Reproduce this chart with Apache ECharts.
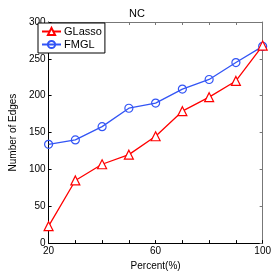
<!DOCTYPE html>
<html><head><meta charset="utf-8">
<script src="https://cdn.jsdelivr.net/npm/echarts@6/dist/echarts.min.js"></script>
<style>html,body{margin:0;padding:0;background:#fff}#c{width:274px;height:276px}</style>
</head><body><div id="c"></div>
<script>
const percents = [20, 30, 40, 50, 60, 70, 80, 90, 100];
const glasso = [23, 85, 107, 120, 145, 179, 198, 220, 268];
const fmgl = [134, 140, 158, 183, 190, 209, 222, 245, 267];
const xLabels = [20, 60, 100];
const title = 'NC';

const chart = echarts.init(document.getElementById('c'), null, {renderer: 'canvas'});
const font = 'Liberation Sans, Arial, sans-serif';
const pair = a => percents.map((p, i) => [p, a[i]]);
chart.setOption({
  animation: false,
  backgroundColor: '#fff',
  title: {text: title, left: 'center', top: 3, textStyle: {fontFamily: font, fontSize: 11, fontWeight: 'normal', color: '#000'}},
  grid: {left: 35, right: 11, top: 22, bottom: 26},
  legend: {
    orient: 'vertical', left: 38, top: 23, padding: [3, 3, 3, 3],
    itemGap: 2, itemWidth: 19, itemHeight: 9,
    borderColor: '#000', borderWidth: 1, backgroundColor: '#fff',
    textStyle: {fontFamily: font, fontSize: 11, color: '#000', padding: [0, 0, 0, -2]},
    data: ['GLasso', 'FMGL']
  },
  xAxis: [{
    type: 'value', min: 20, max: 100, interval: 10,
    name: 'Percent(%)', nameLocation: 'middle', nameGap: 17,
    nameTextStyle: {fontFamily: font, fontSize: 10, color: '#000'},
    axisLine: {onZero: false, lineStyle: {color: '#000', width: 1}},
    axisTick: {inside: true, length: 3, lineStyle: {color: '#000'}},
    axisLabel: {fontFamily: font, fontSize: 10, color: '#000', margin: 3,
      formatter: v => xLabels.includes(v) ? String(v) : ''},
    splitLine: {show: false}
  }, {
    type: 'value', min: 20, max: 100, interval: 10, position: 'top',
    axisLine: {onZero: false, lineStyle: {color: '#777', width: 1}},
    axisTick: {inside: true, length: 3, lineStyle: {color: '#777'}},
    axisLabel: {show: false}, splitLine: {show: false}
  }],
  yAxis: [{
    type: 'value', min: 0, max: 300, interval: 50,
    name: 'Number of Edges', nameLocation: 'middle', nameGap: 23,
    nameTextStyle: {fontFamily: font, fontSize: 10, color: '#000'},
    axisLine: {show: true, onZero: false, lineStyle: {color: '#000', width: 1}},
    axisTick: {show: true, inside: true, length: 3, lineStyle: {color: '#000'}},
    axisLabel: {fontFamily: font, fontSize: 10, color: '#000', margin: 3},
    splitLine: {show: false}
  }, {
    type: 'value', min: 0, max: 300, interval: 50, position: 'right',
    axisLine: {show: true, onZero: false, lineStyle: {color: '#777', width: 1}},
    axisTick: {show: true, inside: true, length: 3, lineStyle: {color: '#777'}},
    axisLabel: {show: false}, splitLine: {show: false}
  }],
  series: [{
    name: 'GLasso', type: 'line', data: pair(glasso),
    symbol: 'triangle', symbolSize: 9, showAllSymbol: true,
    itemStyle: {color: '#fff', borderColor: '#ff0000', borderWidth: 1.2},
    lineStyle: {color: '#ff0000', width: 1.3}, color: '#ff0000', z: 3
  }, {
    name: 'FMGL', type: 'line', data: pair(fmgl),
    symbol: 'circle', symbolSize: 8, showAllSymbol: true,
    itemStyle: {color: 'rgba(255,255,255,0)', borderColor: '#3355f5', borderWidth: 1.2},
    lineStyle: {color: '#3355f5', width: 1.3}, color: '#3355f5', z: 2
  }]
});
</script></body></html>
